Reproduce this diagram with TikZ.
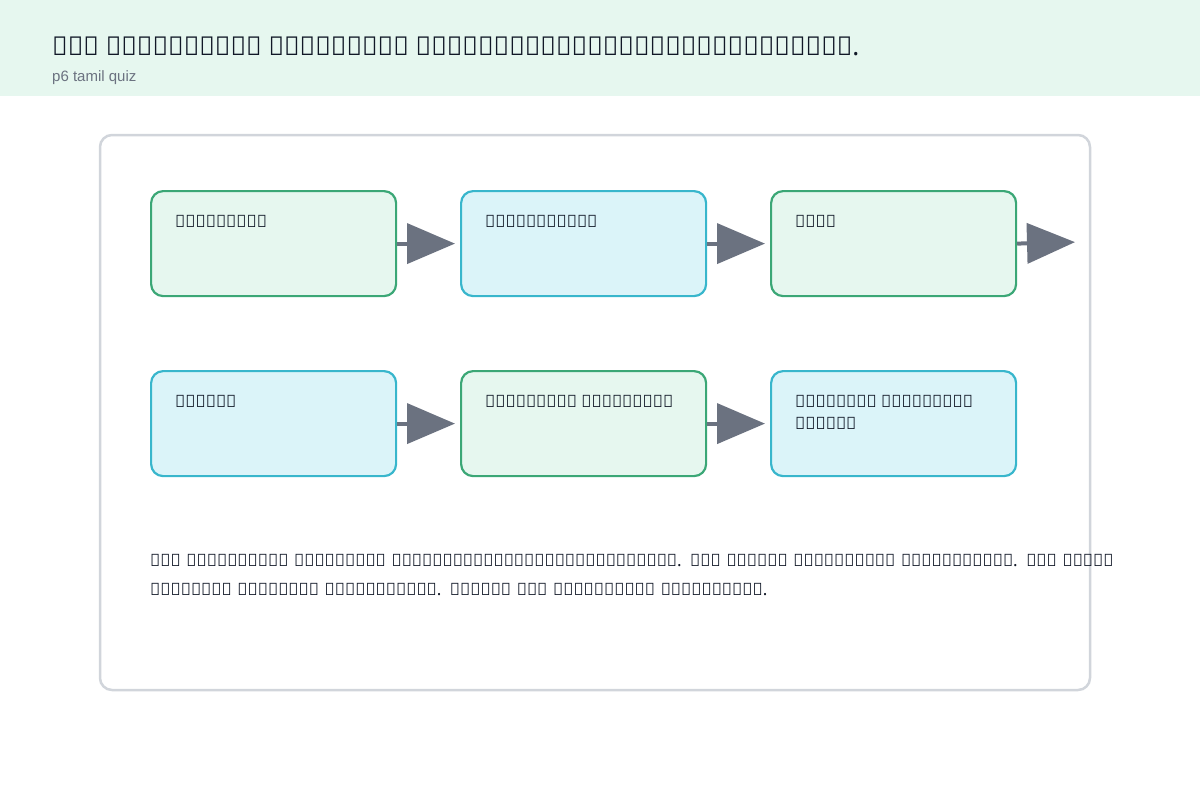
\documentclass[tikz,border=0pt]{standalone}
\usepackage{fontspec}
\setmainfont{Noto Sans}
\newfontfamily\lat{Liberation Sans}
\usetikzlibrary{arrows.meta}
\definecolor{gfill}{HTML}{E6F7EF}
\definecolor{gline}{HTML}{3BA776}
\definecolor{cfill}{HTML}{DBF4F9}
\definecolor{cline}{HTML}{38B6CC}
\definecolor{frame}{HTML}{D1D5DB}
\definecolor{arr}{HTML}{6B7280}
\definecolor{ink}{HTML}{111827}
\tikzset{
 box/.style={draw, line width=2.2pt, rounded corners=12pt, minimum width=245pt, minimum height=105pt, anchor=north west},
 gbox/.style={box, draw=gline, fill=gfill},
 cbox/.style={box, draw=cline, fill=cfill},
 lab/.style={anchor=north west, align=left, font=\fontsize{17}{22}\selectfont\bfseries, text=ink, inner sep=0pt},
 con/.style={draw=arr, line width=4pt, shorten >=5pt, -{Triangle[length=48pt,width=40pt]}}
}
\begin{document}
\begin{tikzpicture}[x=1pt,y=-1pt]
\useasboundingbox (0,0) rectangle (1200,800);
\fill[gfill] (0,0) rectangle (1200,96);
\node[anchor=west, inner sep=0pt, font=\fontsize{26}{30}\selectfont\bfseries, text=ink] (title) at (52,46) {ஒரு நூலகத்தில் மாணவர்கள் படித்துக்கொண்டிருக்கிறார்கள்.};
\node[anchor=west, inner sep=0pt, font=\lat\fontsize{15}{18}\selectfont, text=arr] (sub) at (52,78) {p6 tamil quiz};
\draw[frame, line width=2.5pt, rounded corners=12pt] (100,135) rectangle (1090,690);
\node[gbox] (b1) at (150,190) {};
\node[cbox] (b2) at (460,190) {};
\node[gbox] (b3) at (770,190) {};
\node[cbox] (b4) at (150,370) {};
\node[gbox] (b5) at (460,370) {};
\node[cbox] (b6) at (770,370) {};
\node[lab] at (175,215) {மாணவர்கள்};
\node[lab] at (485,215) {புத்தகங்கள்};
\node[lab] at (795,215) {மேஜை};
\node[lab] at (175,395) {நூலகர்};
\node[lab] at (485,395) {படிக்கும் மாணவர்கள்};
\node[lab] at (795,395) {புத்தகம் எடுக்கும்\\மாணவன்};
\coordinate (e3) at (1080,242);
\draw[con] (b1.east) -- (b2.west);
\draw[con] (b2.east) -- (b3.west);
\draw[con] (b3.east) -- (e3);
\draw[con] (b4.east) -- (b5.west);
\draw[con] (b5.east) -- (b6.west);
\node[anchor=north west, inner sep=0pt, text width=1045pt, align=left, font=\fontsize{17}{29}\selectfont, text=ink] (para) at (150,554) {ஒரு நூலகத்தில் மாணவர்கள் படித்துக்கொண்டிருக்கிறார்கள். ஒரு மாணவன் புத்தகத்தை எடுக்கிறான். ஒரு மாணவி மேஜையில் அமர்ந்து எழுதுகிறாள். நூலகர் ஒரு மாணவனுக்கு உதவுகிறார்.};
\end{tikzpicture}
\end{document}
